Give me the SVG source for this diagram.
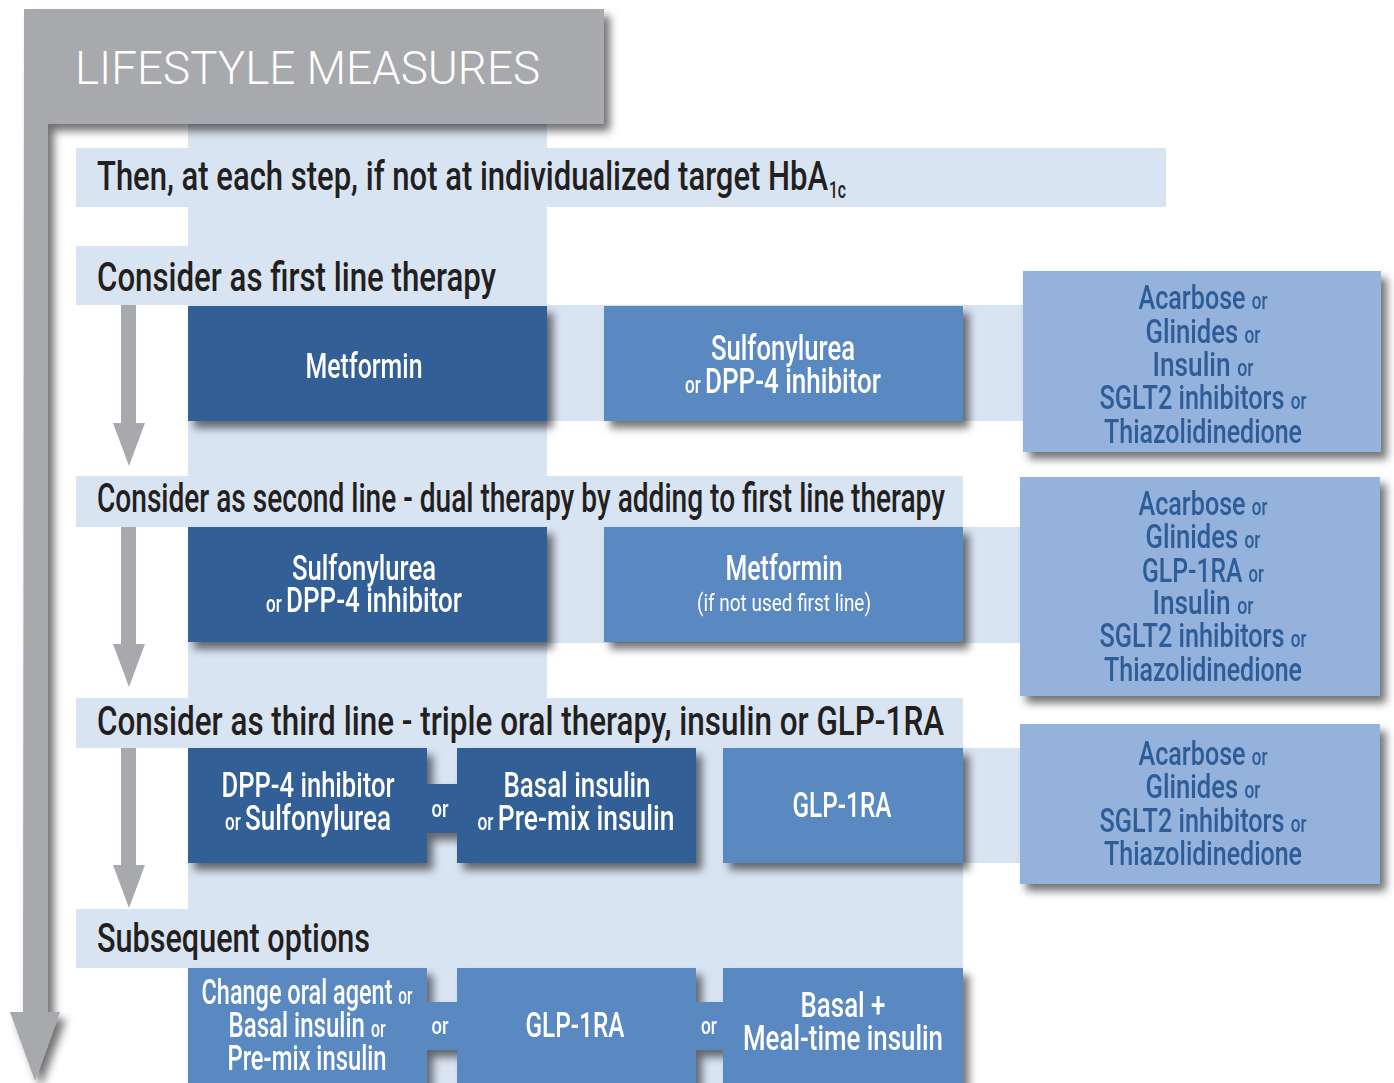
<svg xmlns="http://www.w3.org/2000/svg" width="1394" height="1083" viewBox="0 0 1394 1083">
<defs>
<filter id="sh" x="-10%" y="-10%" width="130%" height="140%">
<feDropShadow dx="6" dy="7" stdDeviation="4" flood-color="#000" flood-opacity="0.55"/>
</filter>
<style>
.bg{fill:#d9e4f2}
.gray{fill:#a7a9ac}
.dark{fill:#315e96}
.med{fill:#5a89c2}
.light{fill:#94b2dc}
text{font-family:Roboto,"Liberation Sans",sans-serif}
.hd{font-size:40px;font-weight:500;fill:#231f20}
.bx{font-size:35px;font-weight:500;fill:#ffffff;text-anchor:middle}
.rt{font-size:34px;font-weight:500;fill:#2d5c97;text-anchor:middle}
.sm{font-size:23px}
.orc{font-size:23px;font-weight:500;fill:#ffffff;text-anchor:middle}
</style>
</defs>
<rect width="1394" height="1083" fill="#ffffff"/>

<!-- light blue background bands -->
<g id="bands">
<rect class="bg" x="188" y="124" width="359" height="959"/>
<rect class="bg" x="76" y="148" width="1090" height="59"/>
<rect class="bg" x="76" y="246" width="471" height="59"/>
<rect class="bg" x="188" y="305" width="835" height="116"/>
<rect class="bg" x="76" y="476" width="887" height="51"/>
<rect class="bg" x="188" y="527" width="832" height="116"/>
<rect class="bg" x="76" y="698" width="887" height="50"/>
<rect class="bg" x="188" y="748" width="832" height="115"/>
<rect class="bg" x="188" y="748" width="775" height="335"/>
<rect class="bg" x="76" y="909" width="887" height="59"/>
</g>

<!-- lifestyle measures L-shaped arrow -->
<g id="lifestyle">
<path class="gray" filter="url(#sh)" d="M24,9 H604 V124 H48 V1012 H60 L35,1081 L10,1012 H23 Z"/>
<text x="75" y="84" font-size="46" font-weight="300" fill="#ffffff" textLength="465" lengthAdjust="spacingAndGlyphs">LIFESTYLE MEASURES</text>
</g>

<!-- step connectors -->
<g id="connectors">
<path class="gray" d="M121,305 H136 V423 H145 L129,466 L113,423 H121 Z"/>
<path class="gray" d="M121,527 H136 V644 H145 L129,687 L113,644 H121 Z"/>
<path class="gray" d="M121,748 H136 V865 H145 L129,908 L113,865 H121 Z"/>
</g>

<!-- step headings -->
<g id="heading-then">
<text class="hd" x="97" y="190" textLength="731" lengthAdjust="spacingAndGlyphs">Then, at each step, if not at individualized target HbA</text>
<text class="hd" x="829" y="198" font-size="23" textLength="17" lengthAdjust="spacingAndGlyphs" style="font-size:23px">1c</text>
</g>
<g id="heading-first"><text class="hd" x="97" y="291" textLength="399" lengthAdjust="spacingAndGlyphs">Consider as first line therapy</text></g>
<g id="heading-second"><text class="hd" x="97" y="512" textLength="848" lengthAdjust="spacingAndGlyphs">Consider as second line - dual therapy by adding to first line therapy</text></g>
<g id="heading-third"><text class="hd" x="97" y="735" textLength="847" lengthAdjust="spacingAndGlyphs">Consider as third line - triple oral therapy, insulin or GLP-1RA</text></g>
<g id="heading-subsequent"><text class="hd" x="97" y="952" textLength="273" lengthAdjust="spacingAndGlyphs">Subsequent options</text></g>

<g filter="url(#sh)">
<!-- Row 1 -->
<g id="r1-metformin">
<rect class="dark" x="188" y="306" width="359" height="115"/>
<text class="bx" x="364" y="378" textLength="117" lengthAdjust="spacingAndGlyphs">Metformin</text>
</g>
<g id="r1-sulfonylurea">
<rect class="med" x="604" y="306" width="359" height="115"/>
<text class="bx" x="783" y="360" textLength="144" lengthAdjust="spacingAndGlyphs">Sulfonylurea</text>
<text class="bx" x="783" y="393" textLength="196" lengthAdjust="spacingAndGlyphs"><tspan class="sm">or </tspan>DPP-4 inhibitor</text>
</g>
<g id="r1-alternatives">
<rect class="light" x="1023" y="271" width="358" height="181"/>
<text class="rt" x="1203" y="309" textLength="129" lengthAdjust="spacingAndGlyphs">Acarbose <tspan class="sm">or</tspan></text>
<text class="rt" x="1203" y="343" textLength="115" lengthAdjust="spacingAndGlyphs">Glinides <tspan class="sm">or</tspan></text>
<text class="rt" x="1203" y="376" textLength="101" lengthAdjust="spacingAndGlyphs">Insulin <tspan class="sm">or</tspan></text>
<text class="rt" x="1203" y="409" textLength="207" lengthAdjust="spacingAndGlyphs">SGLT2 inhibitors <tspan class="sm">or</tspan></text>
<text class="rt" x="1203" y="443" textLength="198" lengthAdjust="spacingAndGlyphs">Thiazolidinedione</text>
</g>

<!-- Row 2 -->
<g id="r2-sulfonylurea">
<rect class="dark" x="188" y="527" width="359" height="115"/>
<text class="bx" x="364" y="580" textLength="144" lengthAdjust="spacingAndGlyphs">Sulfonylurea</text>
<text class="bx" x="364" y="612" textLength="196" lengthAdjust="spacingAndGlyphs"><tspan class="sm">or </tspan>DPP-4 inhibitor</text>
</g>
<g id="r2-metformin">
<rect class="med" x="604" y="527" width="359" height="115"/>
<text class="bx" x="784" y="580" textLength="117" lengthAdjust="spacingAndGlyphs">Metformin</text>
<text class="bx" x="784" y="611" textLength="174" lengthAdjust="spacingAndGlyphs" style="font-size:23px;font-weight:400">(if not used first line)</text>
</g>
<g id="r2-alternatives">
<rect class="light" x="1020" y="477" width="360" height="219"/>
<text class="rt" x="1203" y="515" textLength="129" lengthAdjust="spacingAndGlyphs">Acarbose <tspan class="sm">or</tspan></text>
<text class="rt" x="1203" y="548" textLength="115" lengthAdjust="spacingAndGlyphs">Glinides <tspan class="sm">or</tspan></text>
<text class="rt" x="1203" y="582" textLength="122" lengthAdjust="spacingAndGlyphs">GLP-1RA <tspan class="sm">or</tspan></text>
<text class="rt" x="1203" y="614" textLength="101" lengthAdjust="spacingAndGlyphs">Insulin <tspan class="sm">or</tspan></text>
<text class="rt" x="1203" y="647" textLength="207" lengthAdjust="spacingAndGlyphs">SGLT2 inhibitors <tspan class="sm">or</tspan></text>
<text class="rt" x="1203" y="681" textLength="198" lengthAdjust="spacingAndGlyphs">Thiazolidinedione</text>
</g>

<!-- Row 3 -->
<g id="r3-or">
<rect class="dark" x="426" y="784" width="32" height="49"/>
<text class="orc" x="440" y="817" textLength="17" lengthAdjust="spacingAndGlyphs">or</text>
</g>
<g id="r3-dpp4">
<rect class="dark" x="188" y="748" width="239" height="115"/>
<text class="bx" x="308" y="797" textLength="173" lengthAdjust="spacingAndGlyphs">DPP-4 inhibitor</text>
<text class="bx" x="308" y="830" textLength="166" lengthAdjust="spacingAndGlyphs"><tspan class="sm">or </tspan>Sulfonylurea</text>
</g>
<g id="r3-basal">
<rect class="dark" x="457" y="748" width="239" height="115"/>
<text class="bx" x="577" y="797" textLength="147" lengthAdjust="spacingAndGlyphs">Basal insulin</text>
<text class="bx" x="576" y="830" textLength="197" lengthAdjust="spacingAndGlyphs"><tspan class="sm">or </tspan>Pre-mix insulin</text>
</g>
<g id="r3-glp1ra">
<rect class="med" x="723" y="748" width="240" height="115"/>
<text class="bx" x="842" y="817" textLength="99" lengthAdjust="spacingAndGlyphs">GLP-1RA</text>
</g>
<g id="r3-alternatives">
<rect class="light" x="1020" y="724" width="360" height="160"/>
<text class="rt" x="1203" y="765" textLength="129" lengthAdjust="spacingAndGlyphs">Acarbose <tspan class="sm">or</tspan></text>
<text class="rt" x="1203" y="798" textLength="115" lengthAdjust="spacingAndGlyphs">Glinides <tspan class="sm">or</tspan></text>
<text class="rt" x="1203" y="832" textLength="207" lengthAdjust="spacingAndGlyphs">SGLT2 inhibitors <tspan class="sm">or</tspan></text>
<text class="rt" x="1203" y="865" textLength="198" lengthAdjust="spacingAndGlyphs">Thiazolidinedione</text>
</g>

<!-- Row 4 -->
<g id="r4-or1">
<rect class="med" x="426" y="1002" width="32" height="48"/>
<text class="orc" x="440" y="1034" textLength="17" lengthAdjust="spacingAndGlyphs">or</text>
</g>
<g id="r4-or2">
<rect class="med" x="695" y="1002" width="29" height="48"/>
<text class="orc" x="709" y="1034" textLength="16" lengthAdjust="spacingAndGlyphs">or</text>
</g>
<g id="r4-change">
<rect class="med" x="188" y="968" width="239" height="130"/>
<text class="bx" x="307" y="1004" textLength="211" lengthAdjust="spacingAndGlyphs">Change oral agent <tspan class="sm">or</tspan></text>
<text class="bx" x="307" y="1037" textLength="157" lengthAdjust="spacingAndGlyphs">Basal insulin <tspan class="sm">or</tspan></text>
<text class="bx" x="307" y="1070" textLength="159" lengthAdjust="spacingAndGlyphs">Pre-mix insulin</text>
</g>
<g id="r4-glp1ra">
<rect class="med" x="457" y="968" width="239" height="130"/>
<text class="bx" x="575" y="1037" textLength="99" lengthAdjust="spacingAndGlyphs">GLP-1RA</text>
</g>
<g id="r4-basal-meal">
<rect class="med" x="723" y="968" width="240" height="130"/>
<text class="bx" x="843" y="1017" textLength="85" lengthAdjust="spacingAndGlyphs">Basal +</text>
<text class="bx" x="843" y="1050" textLength="200" lengthAdjust="spacingAndGlyphs">Meal-time insulin</text>
</g>
</g>
</svg>
